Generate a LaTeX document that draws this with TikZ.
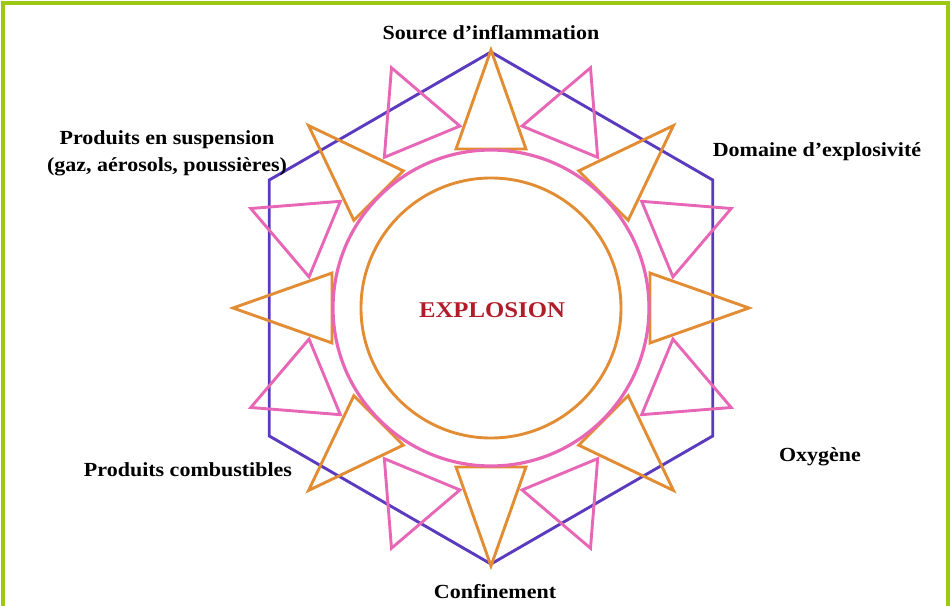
\documentclass[tikz,border=0pt]{standalone}
\usepackage{fontspec}
\setmainfont{Liberation Serif}[FakeStretch=1.1]
\definecolor{rahmen}{RGB}{158, 200, 22}
\definecolor{hexa}{RGB}{90, 58, 190}
\definecolor{orangeton}{RGB}{226, 140, 52}
\definecolor{rosa}{RGB}{232, 102, 182}
\definecolor{explo}{RGB}{178, 28, 42}

\begin{document}
\begin{tikzpicture}[x=1pt, y=1pt,
		etikett/.style={font=\fontsize{20}{27}\selectfont\bfseries, align=center, text=black}]
		
		\useasboundingbox (-491,-297) rectangle (461,308);
		
		% --- RAHMEN ---
		\draw[rahmen, line width=4pt] (-488,-300) -- (-488,305) -- (457,305) -- (457,-300);
		
		% --- HILFSFUNKTION FÜR ZACKEN ---
		\newcommand{\zacke}[5]{ % #1:Winkel, #2:Spitze, #3:Basisradius, #4:Basiswinkel, #5:Farbe
			\draw[#5, line width=2.9pt, line join=miter] (#1:#2) -- (#1+#4:#3) -- (#1-#4:#3) -- cycle;
		}
		
		% --- SECHSECK ---
		\draw[hexa, line width=2.9pt] (90:256) \foreach \w in {150,210,...,390} { -- (\w:256) } -- cycle;
		
		% --- ZACKEN ---
		\foreach \w in {22.5,67.5,...,337.5} { \zacke{\w}{260}{184.6}{12.8}{rosa} }
		\foreach \w in {0,45,...,315} { \zacke{\w}{258}{162.8}{12.4}{orangeton} }
		
		% --- KREISE ---
		\draw[rosa, line width=3.2pt] (0,0) circle (158);
		\draw[orangeton, line width=2.9pt] (0,0) circle (130);
		
		% --- BESCHRIFTUNG ---
		\node[etikett, text=explo, font=\fontsize{22.5}{27}\selectfont\bfseries] (explosion) at (1,-2) {EXPLOSION};
		\node[etikett] (source) at (0,275) {Source d’inflammation};
		\node[etikett] (domaine) at (326,156) {Domaine d’explosivité};
		\node[etikett] (oxygene) at (329,-149) {Oxygène};
		\node[etikett] (confinement) at (4,-284) {Confinement};
		\node[etikett] (combustibles) at (-303,-162) {Produits combustibles};
		\node[etikett] (suspension) at (-324,155) {Produits en suspension\\(gaz, aérosols, poussières)};
		
	\end{tikzpicture}
\end{document}
